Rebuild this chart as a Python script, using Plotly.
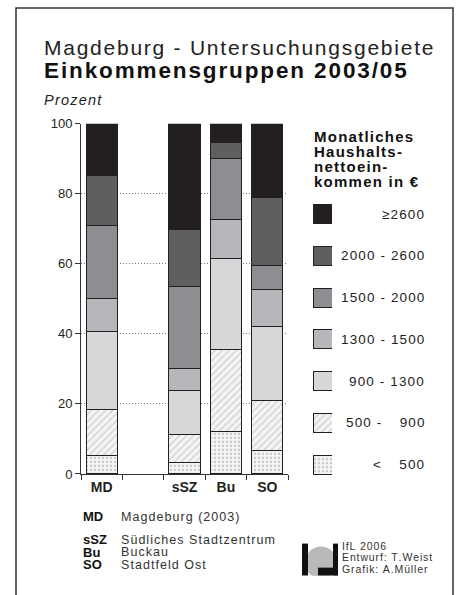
import plotly.graph_objects as go

W, H = 460, 595

# data (percent of households)
areas = ["MD", "sSZ", "Bu", "SO"]
slots = ["MD", " ", "sSZ", "Bu", "SO"]
groups = ["< 500", "500 - 900", "900 - 1300", "1300 - 1500", "1500 - 2000", "2000 - 2600", ">= 2600"]
legend_text = ["<\u2007\u2007500", "500 -\u2007\u2007900", "900 - 1300", "1300 - 1500",
               "1500 - 2000", "2000 - 2600", "\u22652600"]

lt500 = [5.2, 3.3, 12.1, 6.7]
g500_900 = [13.2, 7.9, 23.5, 14.3]
g900_1300 = [22.2, 12.7, 25.8, 21.0]
g1300_1500 = [9.5, 6.3, 11.3, 10.7]
g1500_2000 = [21.0, 23.2, 17.5, 6.7]
g2000_2600 = [14.1, 16.3, 4.5, 19.5]
ge2600 = [14.8, 30.3, 5.3, 21.1]
series = [lt500, g500_900, g900_1300, g1300_1500, g1500_2000, g2000_2600, ge2600]

abbr = ["MD", "sSZ", "Bu", "SO"]
names = ["Magdeburg (2003)", "Südliches Stadtzentrum", "Buckau", "Stadtfeld Ost"]
credits = ["IfL 2006", "Entwurf: T.Weist", "Grafik: A.Müller"]

fills = ["#f6f6f6", "#f4f4f4", "#d6d7d9", "#b6b7ba", "#8d8e91", "#5f5f61", "#231f20"]
patterns = [dict(shape=".", fgcolor="#9c9c9c", bgcolor="#f6f6f6", size=4, solidity=0.3),
            dict(shape="/", fgcolor="#a8a8a8", bgcolor="#f4f4f4", size=5, solidity=0.25),
            None, None, None, None, None]

FONT = "Liberation Sans, Arial, sans-serif"
INK = "#231f20"

# the screenshot squeezes the page a little vertically; compensate
SQ_A, SQ_B = 7.4, 0.973


def px(x):
    return x / W


def py(y):
    return 1 - ((y - SQ_A) / SQ_B) / H


def track(s):
    # fake letter spacing with hair spaces
    return "\u200a".join(s)


fig = go.Figure()

for name, vals, fill, pat in zip(groups, series, fills, patterns):
    marker = dict(color=fill, line=dict(color=INK, width=1))
    if pat:
        marker["pattern"] = pat
    fig.add_trace(go.Bar(x=areas, y=vals, name=name, width=0.75, marker=marker,
                         showlegend=False, hoverinfo="skip"))
    # legend swatch on its own small axis
    fig.add_trace(go.Bar(x=[1], y=[name], orientation="h", xaxis="x2", yaxis="y2",
                         width=0.46, marker=marker, showlegend=False, hoverinfo="skip"))

fig.update_layout(
    width=W, height=H, barmode="stack",
    margin=dict(l=0, r=0, t=0, b=0),
    paper_bgcolor="white", plot_bgcolor="white",
    font=dict(family=FONT, color=INK),
    xaxis=dict(type="category", categoryorder="array", categoryarray=slots, range=[-0.5, 4.5],
               domain=[px(81), px(288)], showline=True, linecolor="#333", linewidth=1,
               ticks="outside", tickson="boundaries", ticklen=5, tickcolor="#333",
               tickfont=dict(size=14, weight="bold", color=INK), showgrid=False),
    yaxis=dict(range=[0, 100], domain=[py(473.5), py(124)], tickvals=[0, 20, 40, 60, 80, 100],
               showline=True, linecolor="#333", linewidth=1, ticks="outside", ticklen=5,
               tickcolor="#333", tickfont=dict(size=13, color=INK), zeroline=False,
               showgrid=True, gridcolor="#7a7a7a", griddash="1px,2px", gridwidth=1),
    xaxis2=dict(domain=[px(313), px(332)], range=[0, 1], visible=False, anchor="y2"),
    yaxis2=dict(domain=[py(485), py(193.3)], type="category", categoryorder="array",
                categoryarray=groups, range=[-0.5, 6.5], visible=False, anchor="x2"),
)

annos = []
# titles
annos.append(dict(x=px(42), y=py(48), text=track("Magdeburg - Untersuchungsgebiete"),
                  font=dict(size=21, color="#222")))
annos.append(dict(x=px(42), y=py(71), text="<b>" + track("Einkommensgruppen 2003/05") + "</b>",
                  font=dict(size=22.5, color="#111")))
annos.append(dict(x=px(42), y=py(100), text="<i>" + track("Prozent") + "</i>",
                  font=dict(size=14.5, color="#222")))

# legend title
for i, line in enumerate(["Monatliches", "Haushalts-", "nettoein-", "kommen in €"]):
    annos.append(dict(x=px(312), y=py(137 + 15 * i), text="<b>" + track(line) + "</b>",
                      font=dict(size=15, color="#111")))

# key to abbreviations
rows = [516, 539, 551.5, 564]
for a, n, y in zip(abbr, names, rows):
    annos.append(dict(x=px(81), y=py(y), text="<b>" + a + "</b>", font=dict(size=13, color="#111")))
    annos.append(dict(x=px(119), y=py(y), text=track(n), font=dict(size=12.5, color="#333")))

for t, y in zip(credits, [545, 556.5, 568]):
    annos.append(dict(x=px(340), y=py(y), text=track(t), font=dict(size=10.5, color="#333")))

for a in annos:
    a.update(xref="paper", yref="paper", xanchor="left", yanchor="middle", showarrow=False)

# legend labels, tied to the swatch axis
for g, t in zip(groups, legend_text):
    annos.append(dict(x=px(426), xref="paper", y=g, yref="y2", text=track(t), xanchor="right",
                      yanchor="middle", showarrow=False, font=dict(size=13.5, color="#222")))

fig.update_layout(annotations=annos)

# frame and a rough logo
shapes = [
    dict(type="rect", x0=px(16), x1=px(453), y0=-0.05, y1=py(8.5), line=dict(color="#333", width=1.5)),
    dict(type="circle", x0=px(305), x1=px(337), y0=py(578), y1=py(546),
         fillcolor="#b9b9b9", line=dict(width=0)),
    dict(type="rect", x0=px(302), x1=px(308), y0=py(575), y1=py(543), fillcolor="#111", line=dict(width=0)),
    dict(type="rect", x0=px(333), x1=px(338), y0=py(575), y1=py(543), fillcolor="#111", line=dict(width=0)),
    dict(type="rect", x0=px(318), x1=px(338), y0=py(575), y1=py(567), fillcolor="#111", line=dict(width=0)),
    dict(type="rect", x0=px(300), x1=px(340), y0=py(592), y1=py(575), fillcolor="white", line=dict(width=0)),
]
for s in shapes:
    s.update(xref="paper", yref="paper")
fig.update_layout(shapes=shapes)

page_fix = ("document.documentElement.style.margin='0';document.documentElement.style.overflow='hidden';"
            "document.body.style.margin='0';document.body.style.padding='0';"
            "document.body.style.overflow='hidden';document.body.style.height='595px';")
fig.write_html("out.html", config={"displayModeBar": False}, post_script=page_fix)
